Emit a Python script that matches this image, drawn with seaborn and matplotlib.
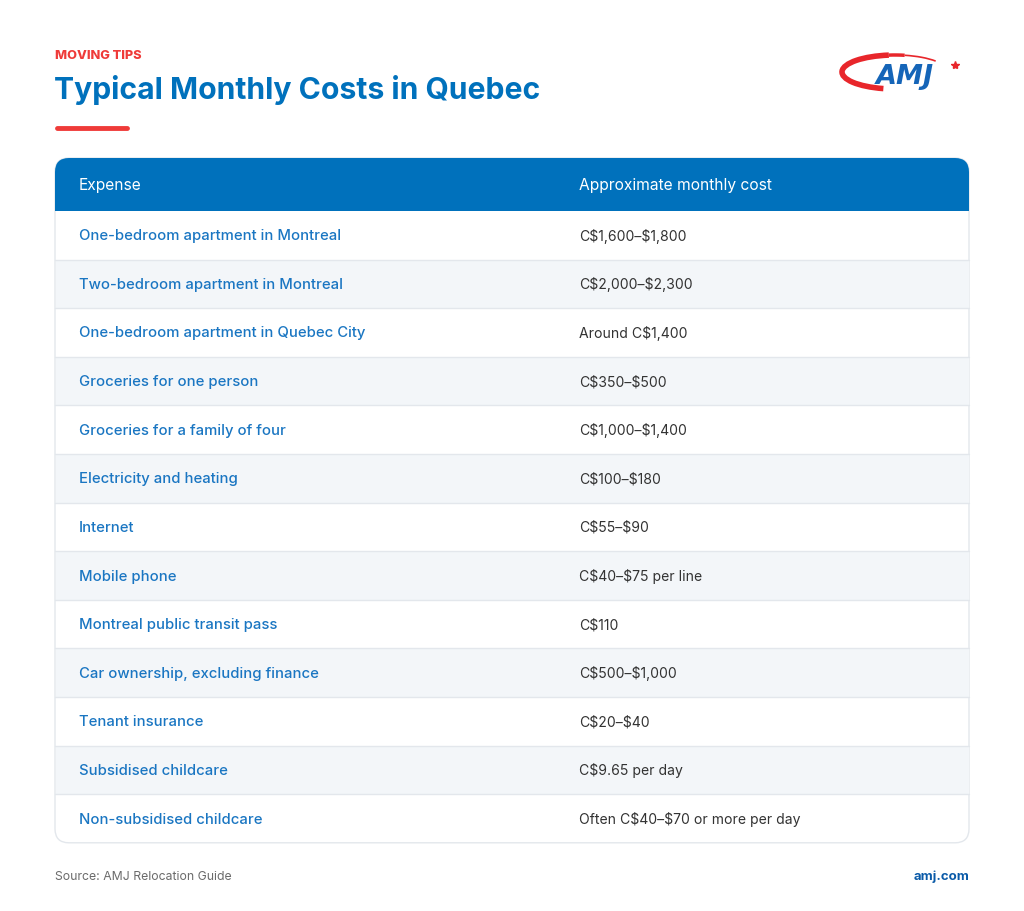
import matplotlib.pyplot as plt
from matplotlib.patches import FancyBboxPatch, Rectangle, Arc
import seaborn as sns

# table data
expenses = [
    'One-bedroom apartment in Montreal',
    'Two-bedroom apartment in Montreal',
    'One-bedroom apartment in Quebec City',
    'Groceries for one person',
    'Groceries for a family of four',
    'Electricity and heating',
    'Internet',
    'Mobile phone',
    'Montreal public transit pass',
    'Car ownership, excluding finance',
    'Tenant insurance',
    'Subsidised childcare',
    'Non-subsidised childcare',
]
costs = [
    'C$1,600\u2013$1,800',
    'C$2,000\u2013$2,300',
    'Around C$1,400',
    'C$350\u2013$500',
    'C$1,000\u2013$1,400',
    'C$100\u2013$180',
    'C$55\u2013$90',
    'C$40\u2013$75 per line',
    'C$110',
    'C$500\u2013$1,000',
    'C$20\u2013$40',
    'C$9.65 per day',
    'Often C$40\u2013$70 or more per day',
]
headers = ['Expense', 'Approximate monthly cost']

sns.set_theme(style='white')
plt.rcParams['font.family'] = ['Inter', 'DejaVu Sans']
plt.rcParams['text.parse_math'] = False  # dollar signs are plain text

BLUE = '#0071bc'
RED = '#ef3b39'
STRIPE = '#f3f6f9'
LINE = '#e3e7ec'

fig = plt.figure(figsize=(10.24, 9.11), dpi=100)
ax = fig.add_axes([0, 0, 1, 1])
ax.set_xlim(0, 1024)
ax.set_ylim(911, 0)
ax.axis('off')

# heading
ax.text(55, 56, 'MOVING TIPS', color=RED, fontsize=9.2, fontweight='heavy', va='center')
ax.text(54, 90, 'Typical Monthly Costs in Quebec', color=BLUE, fontsize=21.7,
        fontweight='bold', va='center')
ax.plot([57, 127], [128, 128], color=RED, lw=3.5, solid_capstyle='round')

# logo
swoosh = '#e8262b'
ax.add_patch(Arc((895, 72), 106, 34, theta1=125, theta2=250, color=swoosh, lw=4))
ax.add_patch(Arc((895, 72), 106, 34, theta1=250, theta2=300, color=swoosh, lw=2.5))
ax.add_patch(Arc((895, 72), 106, 34, theta1=300, theta2=345, color=swoosh, lw=1.2))
ax.text(905, 77, 'AMJ', color='#1565b8', fontsize=19.5, fontweight='black', style='italic',
        ha='center', va='center', family=['DejaVu Sans'])
ax.plot(955, 65, marker='*', color=swoosh, markersize=6)

# table frame
left, right = 55, 969
top, head_h = 158, 53
row_h = 48.6
n = len(expenses)
bottom = top + head_h + n * row_h

ax.add_patch(FancyBboxPatch((left, top), right - left, bottom - top,
                            boxstyle='round,pad=0,rounding_size=14',
                            facecolor='white', edgecolor=LINE, lw=1, zorder=1))
ax.add_patch(FancyBboxPatch((left, top), right - left, head_h,
                            boxstyle='round,pad=0,rounding_size=14',
                            facecolor=BLUE, edgecolor='none', zorder=2))
ax.add_patch(Rectangle((left, top + head_h / 2), right - left, head_h / 2,
                       facecolor=BLUE, edgecolor='none', zorder=2))

col_x = [79, 579]
for j, h in enumerate(headers):
    ax.text(col_x[j], top + head_h / 2 + 1, h, color='white', fontsize=11.2,
            va='center', zorder=3)

for i, (e, c) in enumerate(zip(expenses, costs)):
    y0 = top + head_h + i * row_h
    if i % 2 == 1:
        ax.add_patch(Rectangle((left + 0.5, y0), right - left - 1, row_h,
                               facecolor=STRIPE, edgecolor='none', zorder=2))
    if i < n - 1:
        ax.plot([left, right], [y0 + row_h, y0 + row_h], color=LINE, lw=1, zorder=3)
    ax.text(col_x[0], y0 + row_h / 2 + 1, e, color='#1a76c2', fontsize=10.7,
            fontweight='medium', va='center', zorder=4)
    ax.text(col_x[1], y0 + row_h / 2 + 1, c, color='#333333', fontsize=10.1,
            va='center', zorder=4)

# footer
ax.text(55, 877, 'Source: AMJ Relocation Guide', color='#6b6b6b', fontsize=8.8, va='center')
ax.text(969, 877, 'amj.com', color='#0a5aa8', fontsize=9.5, fontweight='bold',
        ha='right', va='center')

fig.savefig('out.png', dpi=100, facecolor='white')
